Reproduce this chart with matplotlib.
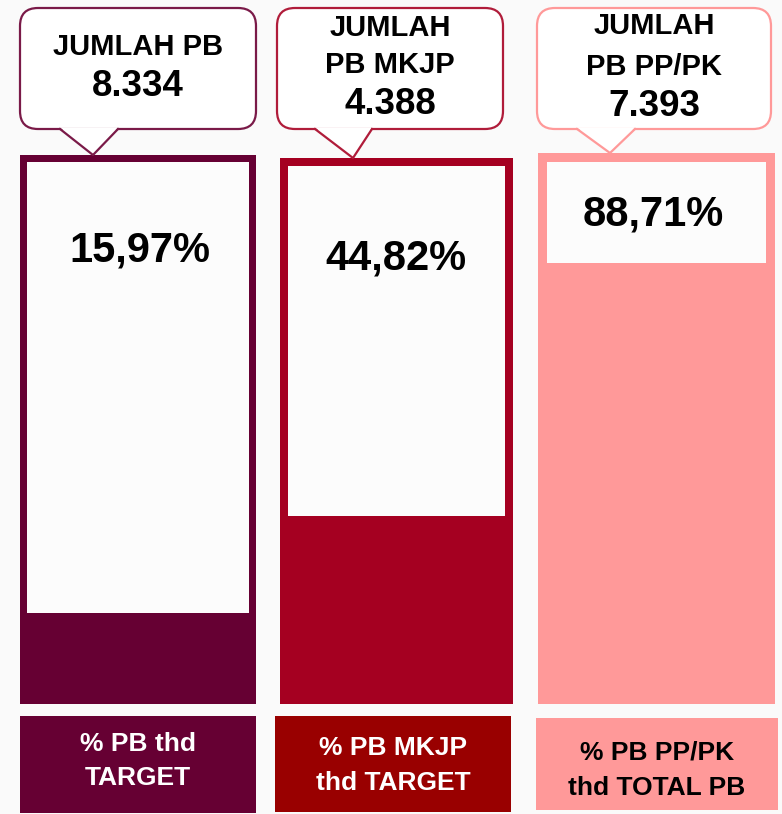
import matplotlib.pyplot as plt
from matplotlib.patches import Rectangle, FancyBboxPatch, Polygon

plt.rcParams['font.family'] = ['Liberation Sans', 'DejaVu Sans']

# data
callout_lines = [["JUMLAH PB"], ["JUMLAH", "PB MKJP"], ["JUMLAH", "PB PP/PK"]]
totals = ["8.334", "4.388", "7.393"]
pct_labels = ["15,97%", "44,82%", "88,71%"]
fill_level = [0.166, 0.344, 0.80]   # filled share of each bar as drawn
bottom_labels = [["% PB thd", "TARGET"], ["% PB MKJP", "thd TARGET"], ["% PB PP/PK", "thd TOTAL PB"]]

# styling
bar_colors = ["#660033", "#A50021", "#FF9999"]
label_colors = ["#660033", "#990000", "#FF9999"]
label_text_colors = ["white", "white", "black"]
callout_edges = ["#7A1A48", "#B01C3A", "#FF9999"]
bg = "#FAFAFA"

# layout in pixels
bar_x = [(20, 256), (280, 513), (538, 775)]
bar_top = [155, 158, 153]
bar_bottom = 704
border = [7, 8, 9]
box_x = [(20, 256), (275, 511), (536, 778)]
box_y = [(716, 813), (716, 812), (718, 810)]
box_text_y = [[744, 778], [748, 783], [753, 788]]
call_x = [(20, 256), (277, 503), (537, 771)]
call_y = (8, 129)
ptr = [(60, 118, 93, 155), (315, 372, 353, 158), (577, 635, 610, 153)]
call_text_y = [[47], [28, 65], [26, 67]]
total_y = [87, 105, 107]
pct_pos = [(140, 250), (396, 258), (653, 215)]

fig = plt.figure(figsize=(7.82, 8.14), dpi=100, facecolor=bg)
ax = fig.add_axes([0, 0, 1, 1])
ax.set_xlim(0, 782)
ax.set_ylim(814, 0)
ax.axis('off')
ax.set_facecolor(bg)

for i in range(3):
    x0, x1 = bar_x[i]
    top = bar_top[i]
    h = bar_bottom - top
    b = border[i]
    fill_top = bar_bottom - fill_level[i] * h
    # frame
    ax.add_patch(Rectangle((x0, top), x1 - x0, h, color=bar_colors[i], lw=0))
    # white inner part above the fill
    ax.add_patch(Rectangle((x0 + b, top + b), x1 - x0 - 2 * b, fill_top - top - b,
                           color="#FCFCFC", lw=0))
    ax.text(pct_pos[i][0], pct_pos[i][1], pct_labels[i], ha='center', va='center',
            fontsize=30, fontweight='bold', color='black')

    # callout
    cx0, cx1 = call_x[i]
    ax.add_patch(FancyBboxPatch((cx0, call_y[0]), cx1 - cx0, call_y[1] - call_y[0],
                                boxstyle="round,pad=0,rounding_size=18",
                                fc="white", ec=callout_edges[i], lw=1.6))
    pl, pr, tip, tipy = ptr[i]
    ax.add_patch(Polygon([(pl, call_y[1] - 1.5), (tip, tipy), (pr, call_y[1] - 1.5)],
                         closed=True, fc="white", ec="none"))
    ax.plot([pl, tip, pr], [call_y[1], tipy, call_y[1]], color=callout_edges[i], lw=1.6)
    for line, y in zip(callout_lines[i], call_text_y[i]):
        ax.text((cx0 + cx1) / 2, y, line, ha='center', va='center',
                fontsize=21, fontweight='bold', color='black')
    ax.text((cx0 + cx1) / 2, total_y[i], totals[i], ha='center', va='center',
            fontsize=26.5, fontweight='bold', color='black')

    # bottom label box
    bx0, bx1 = box_x[i]
    by0, by1 = box_y[i]
    ax.add_patch(Rectangle((bx0, by0), bx1 - bx0, by1 - by0, color=label_colors[i], lw=0))
    for line, y in zip(bottom_labels[i], box_text_y[i]):
        ax.text((bx0 + bx1) / 2, y, line, ha='center', va='center',
                fontsize=19, fontweight='bold', color=label_text_colors[i])

plt.savefig('out.png', dpi=100, facecolor=bg)
